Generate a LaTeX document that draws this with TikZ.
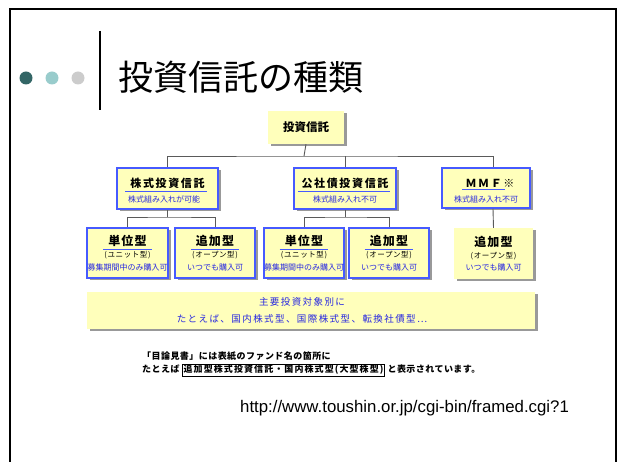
\documentclass[tikz,border=0pt]{standalone}
\usepackage{fontspec}
\setmainfont{Noto Sans CJK JP}
\newfontfamily\urlfont{Liberation Sans}
\usetikzlibrary{shadows}
\definecolor{boxyellow}{RGB}{255,255,187}
\definecolor{boxblue}{RGB}{70,90,255}
\definecolor{noteblue}{RGB}{40,40,225}
\definecolor{dotdark}{RGB}{51,102,102}
\definecolor{dotmid}{RGB}{153,204,204}
\definecolor{dotlight}{RGB}{204,204,204}
\definecolor{linegray}{RGB}{90,90,90}

\tikzset{
  yellowbox/.style={fill=boxyellow, inner sep=0pt,
    drop shadow={shadow xshift=2.5pt, shadow yshift=-2.5pt, fill=black!40, opacity=1}},
  bluebox/.style={yellowbox, draw=boxblue, line width=1.5pt},
  conn/.style={draw=linegray, line width=0.9pt},
  uline/.style={draw=boxblue, line width=0.9pt},
  cattitle/.style={inner sep=0pt, font=\bfseries\fontsize{11}{12}\selectfont\addfontfeature{LetterSpace=15}},
  leaftitle/.style={inner sep=0pt, font=\bfseries\fontsize{12}{13}\selectfont\addfontfeature{LetterSpace=10}},
  kanatext/.style={inner sep=0pt, font=\fontsize{7.5}{8}\selectfont\addfontfeature{LetterSpace=8}},
  bluenote/.style={inner sep=0pt, text=noteblue, font=\fontsize{8}{9}\selectfont},
  reftext/.style={inner sep=0pt, anchor=west, font=\bfseries\fontsize{9}{10}\selectfont\addfontfeature{LetterSpace=5}}
}

\begin{document}
\begin{tikzpicture}[x=1pt, y=-1pt]
    \useasboundingbox (0,0) rectangle (619,462);
    % slide frame and heading
    \draw[line width=2.5pt] (10,470) -- (10,9) -- (616,9) -- (616,470);
    \fill[dotdark] (26,78) circle (6.5);
    \fill[dotmid] (52,78) circle (6.5);
    \fill[dotlight] (78,78) circle (6.5);
    \draw[line width=1.5pt] (100,31) -- (100,110);
    \node[anchor=west, inner sep=0pt, font=\fontsize{35}{40}\selectfont] (title) at (118,77) {投資信託の種類};

    % boxes
    \node[yellowbox, minimum width=76pt, minimum height=33pt,
          font=\bfseries\fontsize{11.5}{12}\selectfont] (fund) at (306,127.5) {投資信託};
    \node[bluebox, minimum width=101pt, minimum height=41pt] (stock) at (167.5,188.5) {};
    \node[bluebox, minimum width=102pt, minimum height=41pt] (bond) at (345,188.5) {};
    \node[bluebox, minimum width=88pt, minimum height=40pt] (mmf) at (486,188) {};
    \node[bluebox, minimum width=81pt, minimum height=50pt] (unitA) at (127.5,253) {};
    \node[bluebox, minimum width=80pt, minimum height=50pt] (openA) at (215,253) {};
    \node[bluebox, minimum width=80pt, minimum height=50pt] (unitB) at (304,253) {};
    \node[bluebox, minimum width=80pt, minimum height=50pt] (openB) at (389,253) {};
    \node[yellowbox, minimum width=79pt, minimum height=51pt] (openC) at (493.5,253.5) {};
    \node[yellowbox, minimum width=448pt, minimum height=37pt] (target) at (311,310.5) {};

    % tree lines
    \coordinate (bus) at (304,156);
    \coordinate (stockbus) at (167.5,217);
    \coordinate (bondbus) at (345,217);
    \draw[conn] (fund.south) -- (bus);
    \draw[conn] (stock.north) |- (bus) -| ([xshift=7pt]mmf.north);
    \draw[conn] (bond.north) -- (bond.north |- bus);
    \draw[conn] (stock.south) -- (stockbus);
    \draw[conn] (unitA.north) |- (stockbus) -| (openA.north);
    \draw[conn] (bond.south) -- (bondbus);
    \draw[conn] (unitB.north) |- (bondbus) -| (openB.north);
    \draw[conn] ([xshift=7pt]mmf.south) -- (openC.north);

    % category texts
    \node[cattitle] (stock-t) at (167.5,183) {株式投資信託};
    \node[cattitle] (bond-t) at (345,183) {公社債投資信託};
    \node[cattitle] (mmf-t) at (490,183) {ＭＭＦ※};
    \draw[uline] ([xshift=-5pt,yshift=-2.5pt]stock-t.south west) -- ([xshift=2pt,yshift=-2.5pt]stock-t.south east);
    \draw[uline] ([xshift=-3pt,yshift=-2.5pt]bond-t.south west) -- ([xshift=1pt,yshift=-2.5pt]bond-t.south east);
    \draw[uline] ([xshift=-3pt,yshift=-2.5pt]mmf-t.south west) -- ([xshift=-10pt,yshift=-2.5pt]mmf-t.south east);
    \node[bluenote] at (164,199.5) {株式組み入れが可能};
    \node[bluenote] at (345,199.5) {株式組み入れ不可};
    \node[bluenote] at (486,199.5) {株式組み入れ不可};

    % leaf texts
    \foreach \leaf/\kind/\kana/\buy/\mark in {unitA/単位型/(ユニット型)/募集期間中のみ購入可/1,
        openA/追加型/(オープン型)/いつでも購入可/1, unitB/単位型/(ユニット型)/募集期間中のみ購入可/1,
        openB/追加型/(オープン型)/いつでも購入可/1, openC/追加型/(オープン型)/いつでも購入可/0}{
      \node[leaftitle] (\leaf-t) at ([yshift=12pt]\leaf.center) {\kind};
      \ifnum\mark=1
        \draw[uline] ([xshift=-5pt,yshift=-2.5pt]\leaf-t.south west) -- ([xshift=5pt,yshift=-2.5pt]\leaf-t.south east);
      \fi
      \node[kanatext] at ([yshift=-2.5pt]\leaf.center) {\kana};
      \node[bluenote] at ([yshift=-14pt]\leaf.center) {\buy};
    }

    % target text
    \node[bluenote, font=\fontsize{9.5}{10}\selectfont\addfontfeature{LetterSpace=15}] at (302,302) {主要投資対象別に};
    \node[bluenote, font=\fontsize{9.5}{10}\selectfont\addfontfeature{LetterSpace=15}] at (302,319) {たとえば、国内株式型、国際株式型、転換社債型…};

    % prospectus note and source
    \node[reftext] (ref1) at (142,356) {「目論見書」には表紙のファンド名の箇所に};
    \node[reftext] (ref2) at (142,370) {たとえば {\fboxsep=1pt\fboxrule=0.6pt\fbox{\addfontfeature{LetterSpace=12}追加型株式投資信託・国内株式型(大型株型)}} と表示されています。};
    \node[anchor=west, inner sep=0pt, font=\urlfont\fontsize{16.8}{18}\selectfont] (url) at (240,408) {http://www.toushin.or.jp/cgi-bin/framed.cgi?1};
\end{tikzpicture}
\end{document}
